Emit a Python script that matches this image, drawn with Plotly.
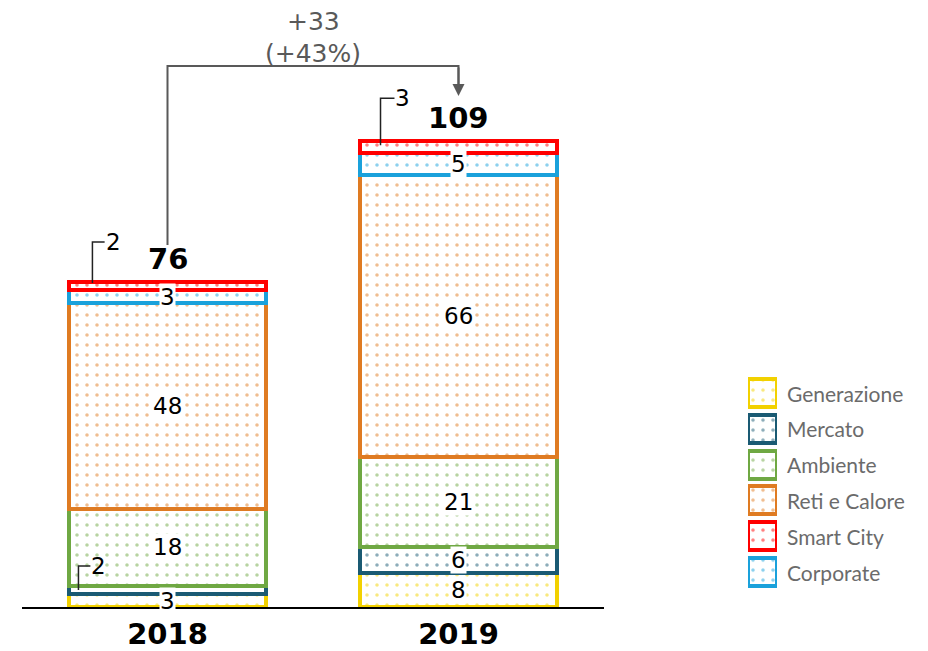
import plotly.graph_objects as go

years = ["2018", "2019"]
series_names = ["Generazione", "Mercato", "Ambiente", "Reti e Calore", "Corporate", "Smart City"]
generazione = [3, 8]
mercato = [2, 6]
ambiente = [18, 21]
reti_calore = [48, 66]
corporate = [3, 5]
smart_city = [2, 3]
totals = [76, 109]
delta_lines = ["+33", "(+43%)"]
legend_order = ["Generazione", "Mercato", "Ambiente", "Reti e Calore", "Smart City", "Corporate"]

values = [generazione, mercato, ambiente, reti_calore, corporate, smart_city]
color_map = {"Generazione": "#F2D100", "Mercato": "#1A5A73", "Ambiente": "#6FA843",
             "Reti e Calore": "#DF7B22", "Corporate": "#1AA1DB", "Smart City": "#FF0000"}

FONT = "DejaVu Sans"
OFF = 8  # page body margin
L, T = 22 - OFF, 10 - OFF
PW, PH = 582, 597
R = 10
FULLW = 928 - L - R

def pattern(col):
    return dict(shape=".", fgcolor=col, bgcolor="white", size=10, solidity=0.1)

fig = go.Figure()
for name, vals in zip(series_names, values):
    col = color_map[name]
    fig.add_trace(go.Bar(
        x=[0, 1], y=vals, name=name, showlegend=False,
        marker=dict(color="white", line=dict(color=col, width=4), pattern=pattern(col)),
        hoverinfo="skip",
    ))

for i, name in enumerate(legend_order):
    col = color_map[name]
    fig.add_trace(go.Bar(
        x=[1], y=[i], orientation="h", xaxis="x2", yaxis="y2", width=0.78,
        showlegend=False, hoverinfo="skip",
        marker=dict(color="white", line=dict(color=col, width=4), pattern=pattern(col)),
    ))

ann = []
for i, name in enumerate(legend_order):
    ann.append(dict(x=1, y=i, xref="x2", yref="y2", text=name, showarrow=False,
                    xanchor="left", xshift=8,
                    font=dict(family="Lato", size=21, color="#6B6B6B")))

small = {(0, 1), (0, 5), (1, 5)}
for yi in range(2):
    base = 0
    for si, vals in enumerate(values):
        v = vals[yi]
        if (yi, si) not in small:
            ann.append(dict(x=yi, y=base + v / 2, text=str(v), showarrow=False,
                            font=dict(family=FONT, size=23, color="black"),
                            bgcolor="white", borderpad=0, xref="x", yref="y"))
        base += v

def leader(x0, y0, y1, x1, text):
    fig.add_shape(type="path", xref="x", yref="y",
                  path=f"M {x0},{y0} L {x0},{y1} L {x1},{y1}",
                  line=dict(color="#222222", width=1.5))
    ann.append(dict(x=x1, y=y1, text=text, showarrow=False, xanchor="left", xshift=-1,
                    font=dict(family=FONT, size=23, color="black"), xref="x", yref="y"))

leader(-0.258, totals[0] - 0.3, totals[0] + 9.3, -0.216, str(smart_city[0]))
leader(-0.306, generazione[0] + mercato[0] / 2, 9.6, -0.265, str(mercato[0]))
leader(0.732, totals[1] - 1.1, totals[1] + 9.9, 0.78, str(smart_city[1]))

for yi, t in enumerate(totals):
    ann.append(dict(x=yi, y=t + 5.3, text=f"<b>{t}</b>", showarrow=False,
                    font=dict(family=FONT, size=29, color="black"), xref="x", yref="y"))

fig.add_shape(type="path", xref="x", yref="y",
              path=f"M 0,{totals[0] + 8.6} L 0,126.4 L 1,126.4 L 1,121",
              line=dict(color="#595959", width=2))
ann.append(dict(x=1, y=119.4, ax=1, ay=126.4, axref="x", ayref="y", xref="x", yref="y",
                text="", showarrow=True, arrowhead=2, arrowsize=1.2, arrowwidth=2,
                arrowcolor="#595959"))
for txt, yv in zip(delta_lines, [136.8, 129.4]):
    ann.append(dict(x=0.5, y=yv, text=txt, showarrow=False, borderpad=0,
                    font=dict(family=FONT, size=25, color="#595959"), xref="x", yref="y"))

fig.update_layout(
    width=928, height=651,
    margin=dict(l=L, r=R, t=T, b=651 - T - PH, autoexpand=False),
    barmode="stack", bargap=0.32,
    plot_bgcolor="white", paper_bgcolor="white",
    annotations=ann,
    showlegend=False,
    xaxis=dict(domain=[0, PW / FULLW], range=[-0.5, 1.5], tickmode="array", tickvals=[0, 1],
               ticktext=[f"<b>{y}</b>" for y in years],
               tickfont=dict(family=FONT, size=29, color="black"),
               showline=True, linecolor="black", linewidth=2, ticks="",
               showgrid=False, zeroline=False, fixedrange=True),
    yaxis=dict(range=[0, 139.5], visible=False, showgrid=False, zeroline=False),
    xaxis2=dict(domain=[(748 - 22) / FULLW, (777 - 22) / FULLW], range=[0, 1], visible=False,
                anchor="y2"),
    yaxis2=dict(domain=[(607 - 589.9) / PH, (607 - 375.1) / PH], range=[5.5, -0.5],
                visible=False, anchor="x2"),
)

fig.write_html("out.html")
